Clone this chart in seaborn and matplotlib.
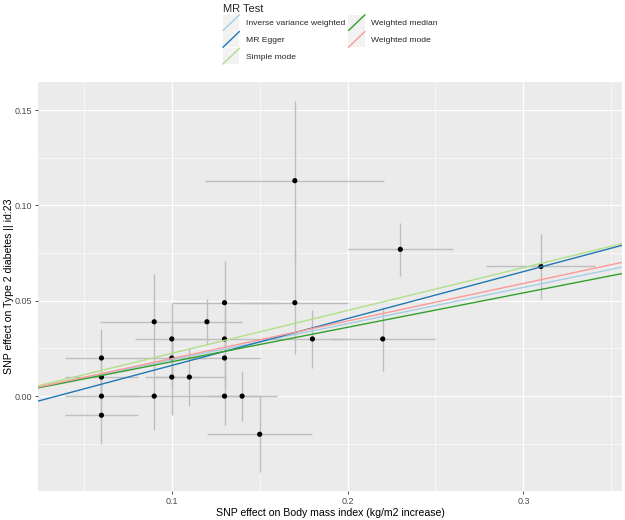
import numpy as np
import pandas as pd
import seaborn as sns
import matplotlib.pyplot as plt
from matplotlib.patches import Rectangle
from matplotlib.lines import Line2D
from matplotlib.legend_handler import HandlerBase
from matplotlib.ticker import MultipleLocator

# SNP effects
beta_exp = [0.06, 0.06, 0.06, 0.06, 0.09, 0.09, 0.10, 0.10, 0.10, 0.11, 0.12, 0.13,
            0.13, 0.13, 0.13, 0.14, 0.15, 0.17, 0.17, 0.18, 0.22, 0.23, 0.31]
beta_out = [0.02, 0.01, 0.00, -0.01, 0.039, 0.00, 0.03, 0.02, 0.01, 0.01, 0.039, 0.049,
            0.03, 0.02, 0.00, 0.00, -0.02, 0.113, 0.049, 0.03, 0.03, 0.077, 0.068]
se_exp = [0.021, 0.021, 0.021, 0.021, 0.031, 0.020, 0.021, 0.020, 0.015, 0.020, 0.020, 0.030,
          0.030, 0.020, 0.020, 0.020, 0.030, 0.051, 0.030, 0.020, 0.030, 0.030, 0.031]
se_out = [0.015, 0.012, 0.012, 0.015, 0.025, 0.018, 0.019, 0.015, 0.020, 0.015, 0.012, 0.022,
          0.015, 0.015, 0.015, 0.013, 0.020, 0.042, 0.027, 0.015, 0.017, 0.014, 0.017]

# MR results
methods = ['Inverse variance weighted', 'MR Egger', 'Simple mode',
           'Weighted median', 'Weighted mode']
slopes = [0.190, 0.246, 0.2246, 0.1805, 0.197]
intercepts = [0.0, -0.0085, 0.0, 0.0, 0.0]
colours = ['#a6cee3', '#1f78b4', '#b2df8a', '#33a02c', '#fb9a99']

df = pd.DataFrame({'bx': beta_exp, 'by': beta_out, 'sx': se_exp, 'sy': se_out})

sns.set_theme(style='darkgrid', rc={
    'axes.facecolor': '#EBEBEB',
    'grid.color': 'white',
    'axes.edgecolor': 'none',
})
plt.rcParams['font.family'] = ['Liberation Sans', 'DejaVu Sans']

fig = plt.figure(figsize=(6.25, 5.2), dpi=100)
ax = fig.add_axes([38 / 625, 29 / 520, 584 / 625, 409 / 520])

# error bars
ax.vlines(df.bx, df.by - df.sy, df.by + df.sy, color='#BEBEBE', lw=1.0, zorder=2)
ax.hlines(df.by, df.bx - df.sx, df.bx + df.sx, color='#BEBEBE', lw=1.0, zorder=2)
sns.scatterplot(data=df, x='bx', y='by', ax=ax, color='black', s=14,
                edgecolor='none', zorder=3)

for m, b, a, c in zip(methods, slopes, intercepts, colours):
    ax.axline((0, a), slope=b, color=c, lw=1.0, zorder=4, label=m)

# ggplot-style 5% expansion
xlo = (df.bx - df.sx).min(); xhi = (df.bx + df.sx).max()
ylo = (df.by - df.sy).min(); yhi = (df.by + df.sy).max()
ax.set_xlim(xlo - 0.05 * (xhi - xlo), xhi + 0.05 * (xhi - xlo))
ax.set_ylim(ylo - 0.05 * (yhi - ylo), yhi + 0.05 * (yhi - ylo))

ax.xaxis.set_minor_locator(MultipleLocator(0.05))
ax.yaxis.set_minor_locator(MultipleLocator(0.025))
ax.set_xticks([0.1, 0.2, 0.3])
ax.set_xticklabels(['0.1', '0.2', '0.3'])
ax.set_yticks([0.0, 0.05, 0.10, 0.15])
ax.set_yticklabels(['0.00', '0.05', '0.10', '0.15'])
ax.grid(which='major', color='white', lw=0.85)
ax.grid(which='minor', color='white', lw=0.4)
ax.tick_params(which='major', length=2.5, width=0.6, color='#333333', labelcolor='#4D4D4D',
               labelsize=6.5, pad=1.5, bottom=True, left=True)
ax.tick_params(which='minor', length=0)
ax.set_xlabel('SNP effect on Body mass index (kg/m2 increase)', fontsize=7.6, color='black', labelpad=2)
ax.set_ylabel('SNP effect on Type 2 diabetes || id:23', fontsize=7.6, color='black', labelpad=1)


class AblineKey(HandlerBase):
    def create_artists(self, legend, orig_handle, xdescent, ydescent, width, height, fontsize, trans):
        x0, y0 = -xdescent, -ydescent
        bg = Rectangle((x0, y0), width, height, facecolor='#F2F2F2', edgecolor='none', transform=trans)
        ln = Line2D([x0, x0 + width], [y0, y0 + height], color=orig_handle.get_color(),
                    lw=1.0, transform=trans)
        return [bg, ln]


handles, labels = ax.get_legend_handles_labels()
leg = fig.legend(handles, labels, title='MR Test', ncol=2, loc='upper left',
                 bbox_to_anchor=(217 / 625, 1 + 2 / 520), frameon=False,
                 fontsize=6.1, title_fontsize=8, alignment='left',
                 handler_map={Line2D: AblineKey()},
                 handlelength=1.95, handleheight=2.5, handletextpad=0.75,
                 labelspacing=0.1, columnspacing=0.4, borderpad=0.2)

fig.savefig('out.png', dpi=100)
